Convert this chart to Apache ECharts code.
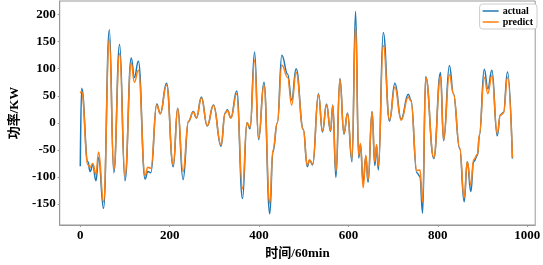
<!DOCTYPE html>
<html>
<head>
<meta charset="utf-8">
<script src="https://cdn.jsdelivr.net/npm/echarts@6/dist/echarts.min.js"></script>
<style>
html,body{margin:0;padding:0;background:#fff;}
#chart{width:543px;height:265px;}
</style>
</head>
<body>
<div id="chart"></div>
<script>
// x positions (time index, 60 min steps)
const time = [0,3,17,22,28,35,41,52,65,75,88,100,114,121,130,145,151,158,171,179,193,208,218,230,242,253,260,271,284,298,315,324,329,337,350,363,373,380,390,399,411,424,431,441,451,464,473,483,499,508,513,520,533,542,551,560,565,572,581,590,598,608,616,623,627,633,639,644,653,659,663,667,678,692,704,718,734,740,753,760,766,773,791,806,813,826,835,849,859,866,874,880,889,893,904,912,921,933,940,947,956,967];
const actual = [-80,64,-72,-90,-78,-107,-64,-158,172,-92,145,-107,120,84,114,-104,-90,-92,35,17,73,-81,27,-105,2,21,9,48,-6,33,-43,18,24,9,59,-140,0,-11,131,-31,75,-168,-54,0,125,90,42,100,-12,-81,-69,-78,54,-17,35,-16,33,-101,82,-21,18,-72,206,-65,-40,-110,-63,-110,21,-79,-43,-87,167,3,73,7,53,42,-92,-99,-167,85,-66,93,-33,106,54,-48,-146,-72,-127,-72,-60,-24,99,63,97,-24,15,19,94,-66];
const predict = [55,58,-78,-82,-75,-95,-54,-146,154,-86,128,-98,110,75,97,-97,-82,-84,33,17,70,-77,26,-90,3,20,9,46,-5,32,-41,17,23,9,54,-122,0,-8,116,-28,69,-149,-50,0,107,84,33,93,-12,-78,-68,-76,52,-15,33,-14,32,-90,80,-19,17,-66,179,-60,-38,-120,-60,-105,20,-72,-40,-80,143,6,66,5,48,40,-88,-87,-146,84,-64,85,-31,89,54,-46,-138,-72,-115,-68,-58,-22,84,54,87,-19,14,18,84,-64];
const xTicks = [0,200,400,600,800,1000];
const yTicks = [-150,-100,-50,0,50,100,150,200];
const seriesNames = ['actual','predict'];
const xTitle = '时间/60min';
const yTitle = '功率/KW';

const pairs = (ys) => time.map((t,i) => [t, ys[i]]);
const serif = '"Liberation Serif","DejaVu Serif","Noto Sans CJK SC",serif';
const chart = echarts.init(document.getElementById('chart'), null, {renderer:'canvas'});
chart.setOption({
  animation:false,
  backgroundColor:'#fff',
  grid:{left:50,right:5,top:1,bottom:33,show:true,borderColor:'#999',borderWidth:1,containLabel:false},
  legend:{
    data:seriesNames, orient:'vertical', right:6, top:4,
    icon:'rect', itemWidth:16, itemHeight:1.5, itemGap:1,
    borderColor:'#ccc', borderWidth:1, borderRadius:3, padding:[2,4,2,3],
    backgroundColor:'#fff',
    textStyle:{fontFamily:serif, fontWeight:'bold', fontSize:10, color:'#000', padding:[0,0,0,-1]}
  },
  xAxis:{
    type:'value', min:-46, max:1018,
    name:xTitle, nameLocation:'middle', nameGap:22,
    nameTextStyle:{fontFamily:serif, fontWeight:'bold', fontSize:13, color:'#000'},
    axisLine:{show:true,onZero:false,lineStyle:{color:'#999'}},
    axisTick:{show:true,length:2,lineStyle:{color:'#999'},customValues:xTicks},
    axisLabel:{customValues:xTicks, margin:4, fontFamily:serif, fontWeight:'bold', fontSize:13, color:'#000', formatter:(v)=>String(v)},
    splitLine:{show:false}
  },
  yAxis:{
    type:'value', min:-188.8, max:225.2,
    name:yTitle, nameLocation:'middle', nameRotate:90, nameGap:36,
    nameTextStyle:{fontFamily:serif, fontWeight:'bold', fontSize:13, color:'#000'},
    axisLine:{show:true,onZero:false,lineStyle:{color:'#999'}},
    axisTick:{show:true,length:2,lineStyle:{color:'#999'},customValues:yTicks},
    axisLabel:{customValues:yTicks, margin:4, fontFamily:serif, fontWeight:'bold', fontSize:13, color:'#000', formatter:(v)=>String(v)},
    splitLine:{show:false}
  },
  series:[
    {name:seriesNames[0], type:'line', data:pairs(actual), showSymbol:false, symbol:'none', smooth:0.45, smoothMonotone:'x',
     lineStyle:{color:'#1f77b4', width:1.5}, itemStyle:{color:'#1f77b4'}},
    {name:seriesNames[1], type:'line', data:pairs(predict), showSymbol:false, symbol:'none', smooth:0.45, smoothMonotone:'x',
     lineStyle:{color:'#ff7f0e', width:1.5}, itemStyle:{color:'#ff7f0e'}}
  ]
});
</script>
</body>
</html>
